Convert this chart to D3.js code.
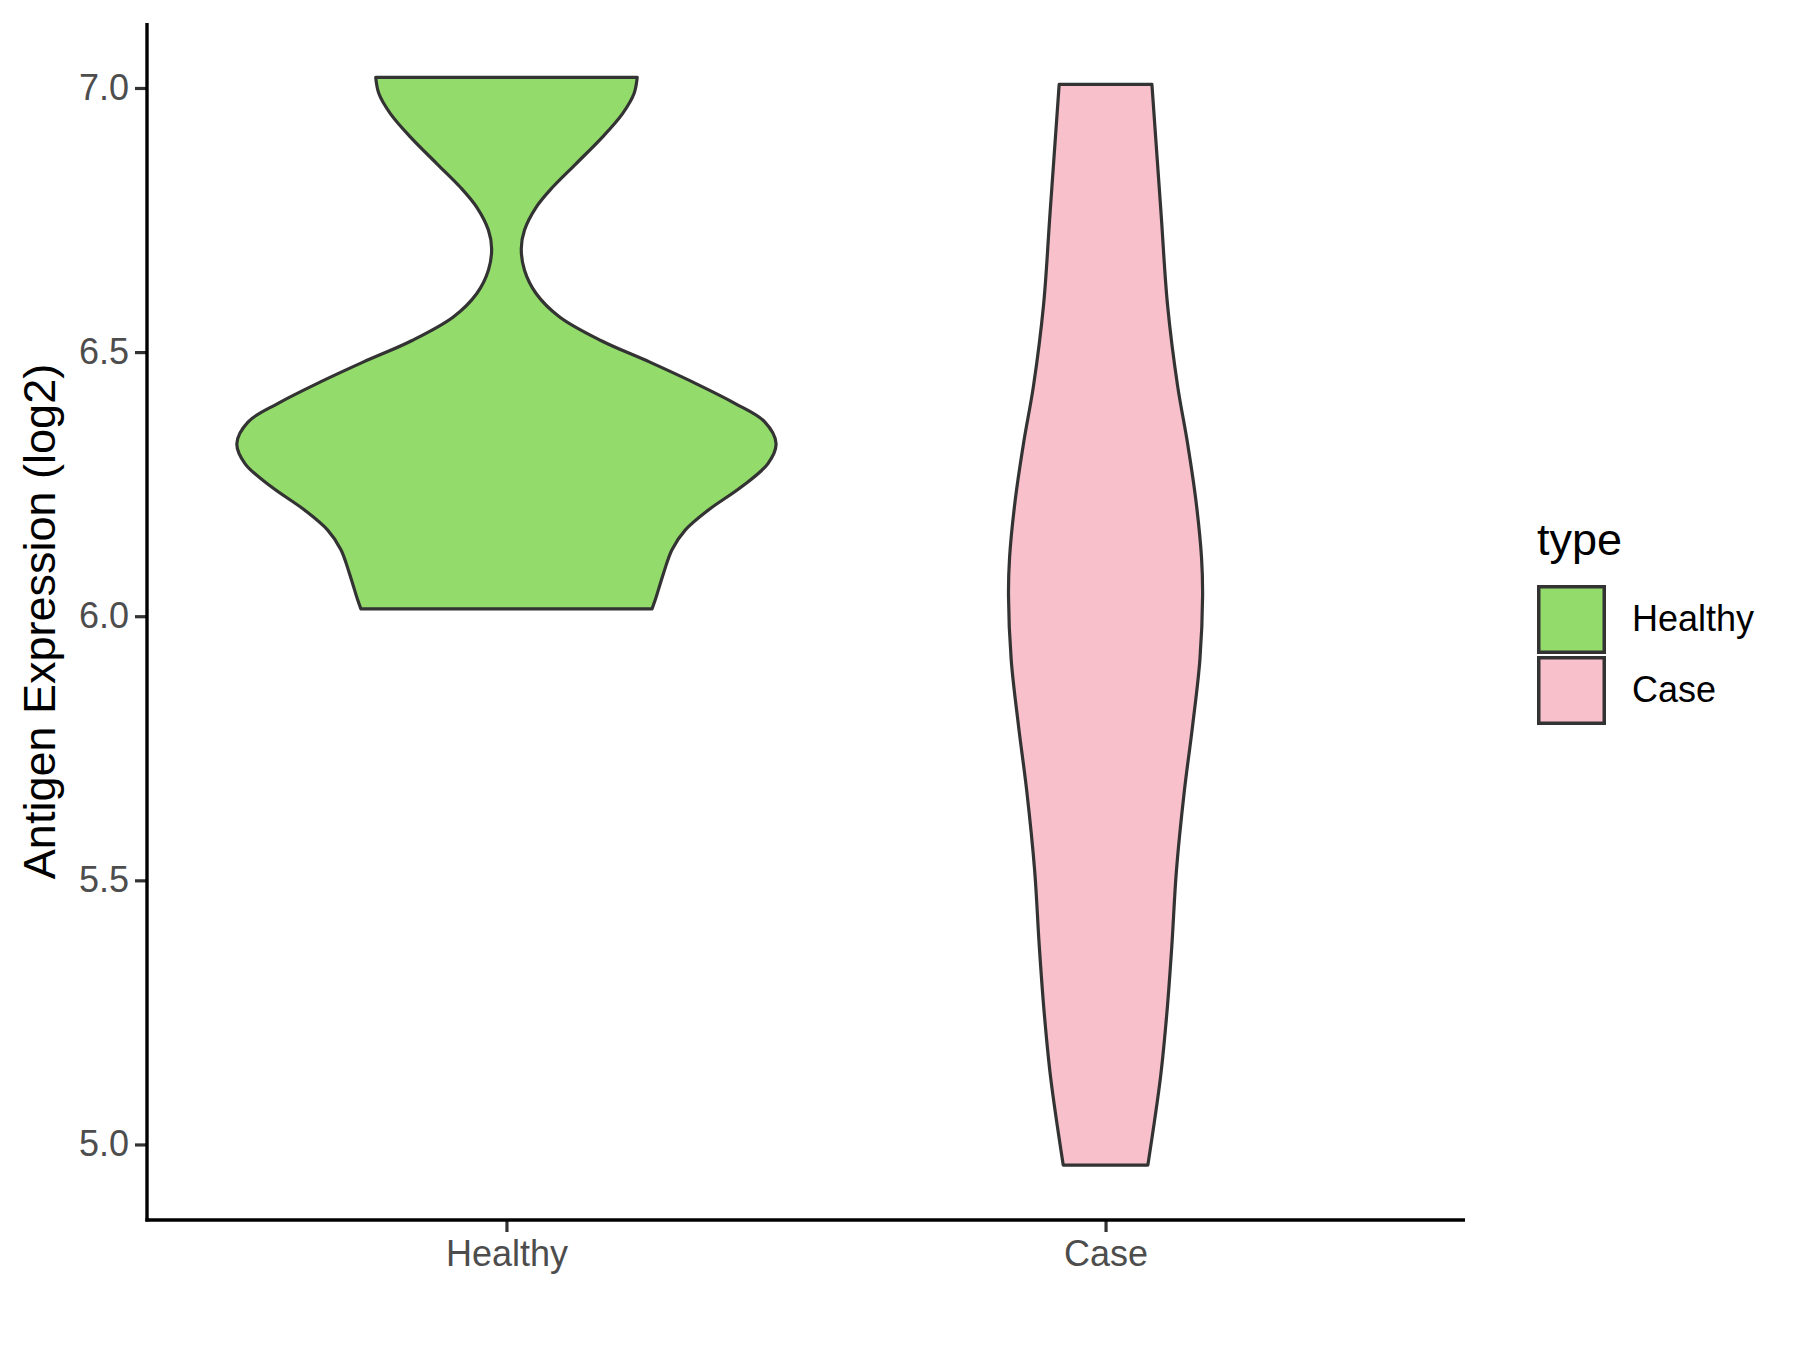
<!DOCTYPE html>
<meta charset="utf-8">
<script src="https://d3js.org/d3.v7.min.js"></script>
<style>
    body {
        margin: 0;
        background: #fff;
    }
    text {
        font-family: "Liberation Sans", Arial, sans-serif;
    }
</style>
<div id="viz_area"></div>
<script>
    // data
    var categories = ["Healthy", "Case"]
    var fills = ["#93DB6A", "#F7C0CB"]
    var yTicks = [5.0, 5.5, 6.0, 6.5, 7.0]

    // violin outlines: value and relative density (1 = widest violin)
    var healthyValues = [6.014, 6.031, 6.082, 6.126, 6.163, 6.201, 6.245, 6.289, 6.327, 6.368, 6.403,
        6.444, 6.481, 6.522, 6.567, 6.611, 6.655, 6.696, 6.731, 6.774, 6.812, 6.856, 6.907, 6.951, 6.989, 7.020]
    var healthyDensity = [0.540, 0.552, 0.583, 0.614, 0.663, 0.749, 0.872, 0.970, 1.000, 0.958, 0.847,
        0.688, 0.532, 0.350, 0.196, 0.110, 0.067, 0.055, 0.067, 0.110, 0.171, 0.257, 0.356, 0.430, 0.473, 0.485]
    var caseValues = [4.961, 5.128, 5.252, 5.377, 5.519, 5.668, 5.793, 5.918, 6.039, 6.111, 6.220,
        6.328, 6.437, 6.589, 6.762, 7.007]
    var caseDensity = [0.157, 0.204, 0.228, 0.246, 0.263, 0.292, 0.323, 0.350, 0.360, 0.356, 0.335,
        0.304, 0.267, 0.230, 0.206, 0.172]

    var violins = [
        { name: "Healthy", values: healthyValues, density: healthyDensity },
        { name: "Case", values: caseValues, density: caseDensity }
    ]

    var W = 1800, H = 1350
    var margin = { left: 147, right: 1465, top: 23, bottom: 1220 }

    var svg = d3.select("#viz_area").append("svg")
        .attr("width", W)
        .attr("height", H)

    var x = d3.scalePoint()
        .domain(categories)
        .range([margin.left, margin.right])
        .padding(0.6)

    var y = d3.scaleLinear()
        .domain([4.857, 7.123])
        .range([margin.bottom, margin.top])

    var color = d3.scaleOrdinal().domain(categories).range(fills)

    var halfMax = 0.45 * x.step()

    // violins
    violins.forEach(function(v) {
        var pts = v.values.map(function(d, i) { return [d, v.density[i]] })
        var cx = x(v.name)
        var area = d3.area()
            .y(function(d) { return y(d[0]) })
            .x0(function(d) { return cx - d[1] * halfMax })
            .x1(function(d) { return cx + d[1] * halfMax })
            .curve(d3.curveCatmullRom.alpha(0.5))
        svg.append("path")
            .datum(pts)
            .attr("d", area)
            .attr("fill", color(v.name))
            .attr("stroke", "#333333")
            .attr("stroke-width", 3.2)
            .attr("stroke-linejoin", "round")
    })

    // axes
    svg.append("g")
        .attr("transform", "translate(" + margin.left + ",0)")
        .call(d3.axisLeft(y).tickValues(yTicks).tickFormat(d3.format(".1f")).tickSize(12).tickPadding(6))
    svg.append("g")
        .attr("transform", "translate(0," + margin.bottom + ")")
        .call(d3.axisBottom(x).tickSize(12).tickPadding(8))

    svg.selectAll(".domain").remove()
    svg.selectAll(".tick line").attr("stroke", "#333333").attr("stroke-width", 3.2)
    svg.selectAll(".tick text")
        .attr("fill", "#4D4D4D")
        .attr("font-size", "36px")
        .attr("font-family", "'Liberation Sans', Arial, sans-serif")

    svg.append("line")
        .attr("x1", margin.left).attr("x2", margin.left)
        .attr("y1", margin.top).attr("y2", margin.bottom + 1.6)
        .attr("stroke", "#000").attr("stroke-width", 3.4)
    svg.append("line")
        .attr("x1", margin.left - 1.6).attr("x2", margin.right)
        .attr("y1", margin.bottom).attr("y2", margin.bottom)
        .attr("stroke", "#000").attr("stroke-width", 3.4)

    svg.append("text")
        .attr("transform", "translate(55," + ((margin.top + margin.bottom) / 2) + ") rotate(-90)")
        .attr("text-anchor", "middle")
        .attr("font-size", "45px")
        .attr("fill", "#000")
        .text("Antigen Expression (log2)")

    // legend
    var legend = svg.append("g").attr("transform", "translate(1537,0)")
    legend.append("text")
        .attr("x", 0)
        .attr("y", 555)
        .attr("font-size", "45px")
        .text("type")

    var item = legend.selectAll(".legend")
        .data(categories)
        .enter().append("g")
        .attr("class", "legend")
        .attr("transform", function(d, i) { return "translate(0," + (585 + i * 71) + ")" })

    item.append("rect")
        .attr("x", 1.75)
        .attr("y", 1.75)
        .attr("width", 65.5)
        .attr("height", 65.5)
        .attr("fill", function(d) { return color(d) })
        .attr("stroke", "#333333")
        .attr("stroke-width", 3.5)

    item.append("text")
        .attr("x", 95)
        .attr("y", 46)
        .attr("font-size", "36px")
        .text(function(d) { return d })
</script>
